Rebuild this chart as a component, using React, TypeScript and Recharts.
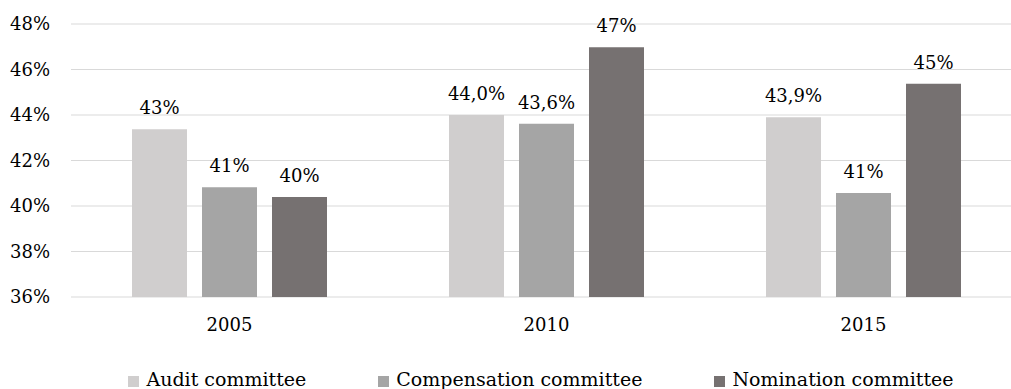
import React from "react";
import { BarChart, Bar, XAxis, YAxis, CartesianGrid, Legend, LabelList } from "recharts";

const years = ["2005", "2010", "2015"];
const auditValues = [43.37, 44.0, 43.9];
const compensationValues = [40.82, 43.62, 40.57];
const nominationValues = [40.4, 46.98, 45.37];
const auditLabels = ["43%", "44,0%", "43,9%"];
const compensationLabels = ["41%", "43,6%", "41%"];
const nominationLabels = ["40%", "47%", "45%"];
const yTicks = [36, 38, 40, 42, 44, 46, 48];

const seriesNames = ["Audit committee", "Compensation committee", "Nomination committee"];
const colors = ["#D0CECE", "#A5A5A5", "#767171"];

const data = years.map((y, i) => ({
  year: y,
  audit: auditValues[i],
  compensation: compensationValues[i],
  nomination: nominationValues[i],
  auditLabel: auditLabels[i],
  compensationLabel: compensationLabels[i],
  nominationLabel: nominationLabels[i],
}));

const FONT = "'DejaVu Serif', serif";

const renderLegend = (props: any) => {
  const payload = props.payload || [];
  return (
    <div
      style={{
        display: "flex",
        justifyContent: "center",
        alignItems: "center",
        height: 22,
        position: "relative",
        top: 1,
        fontFamily: FONT,
        fontSize: 19,
        color: "#000",
        whiteSpace: "nowrap",
      }}
    >
      {payload.map((entry: any, i: number) => (
        <div
          key={i}
          style={{
            display: "flex",
            alignItems: "center",
            marginRight: i < payload.length - 1 ? 72 : 0,
          }}
        >
          <span
            style={{
              display: "inline-block",
              width: 11,
              height: 11,
              background: entry.color,
              marginRight: 7,
              marginTop: 5,
            }}
          />
          <span>{entry.value}</span>
        </div>
      ))}
    </div>
  );
};

export default function App() {
  return (
    <div
      style={{
        position: "absolute",
        left: 0,
        top: 0,
        width: 1011,
        height: 389,
        overflow: "hidden",
        background: "#fff",
      }}
    >
      <BarChart
        width={1030}
        height={389}
        data={data}
        margin={{ top: 24, right: 8, left: 0, bottom: 0 }}
        barSize={55}
        barGap={15}
      >
        <CartesianGrid vertical={false} stroke="#D9D9D9" strokeWidth={1.2} />
        <XAxis
          dataKey="year"
          axisLine={false}
          tickLine={false}
          tickSize={0}
          tickMargin={21}
          height={70}
          tick={{ fontFamily: FONT, fontSize: 18, fill: "#000" }}
        />
        <YAxis
          domain={[36, 48]}
          ticks={yTicks}
          axisLine={false}
          tickLine={false}
          tickSize={0}
          tickMargin={21}
          width={71}
          tickFormatter={(v: number) => `${v}%`}
          tick={{ fontFamily: FONT, fontSize: 18, fill: "#000" }}
        />
        <Legend
          verticalAlign="bottom"
          content={renderLegend}
          wrapperStyle={{ left: 0, width: 1082 }}
        />
        <Bar dataKey="audit" name={seriesNames[0]} fill={colors[0]} isAnimationActive={false}>
          <LabelList dataKey="auditLabel" position="top" offset={15} style={{ fontFamily: FONT, fontSize: 18, fill: "#000" }} />
        </Bar>
        <Bar dataKey="compensation" name={seriesNames[1]} fill={colors[1]} isAnimationActive={false}>
          <LabelList dataKey="compensationLabel" position="top" offset={15} style={{ fontFamily: FONT, fontSize: 18, fill: "#000" }} />
        </Bar>
        <Bar dataKey="nomination" name={seriesNames[2]} fill={colors[2]} isAnimationActive={false}>
          <LabelList dataKey="nominationLabel" position="top" offset={15} style={{ fontFamily: FONT, fontSize: 18, fill: "#000" }} />
        </Bar>
      </BarChart>
    </div>
  );
}
